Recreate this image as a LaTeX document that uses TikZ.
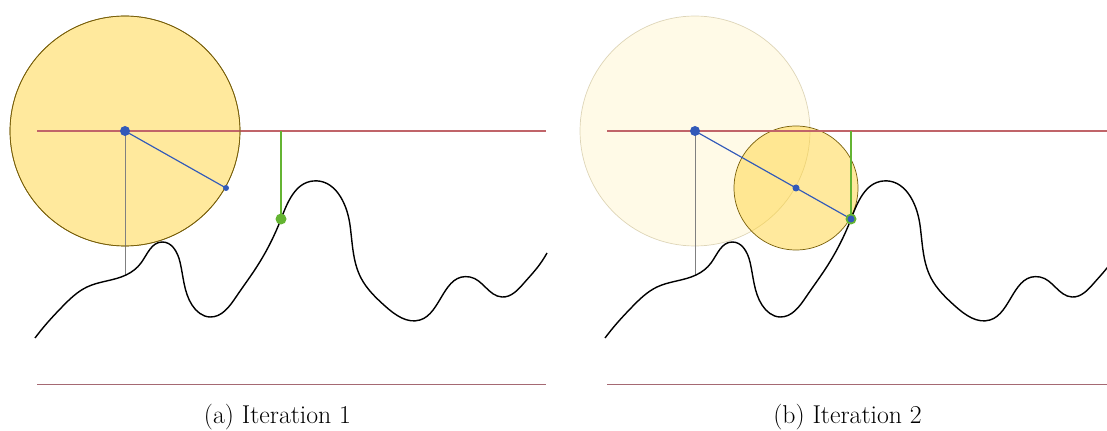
\documentclass[tikz,border=0pt]{standalone}
\usepackage{tikz}
\usetikzlibrary{hobby}
\definecolor{ballfill}{RGB}{255,212,60}
\definecolor{balledge}{RGB}{120,95,10}
\definecolor{levelred}{RGB}{192,100,105}
\definecolor{floorred}{RGB}{165,105,115}
\definecolor{stepblue}{RGB}{50,90,185}
\definecolor{hitgreen}{RGB}{100,180,50}

\tikzset{
  ball/.style={fill=ballfill, fill opacity=0.5, draw=balledge, line width=0.6pt},
  oldball/.style={fill=ballfill, fill opacity=0.12, draw=balledge, draw opacity=0.25, line width=0.6pt},
  level/.style={levelred, line width=1pt},
  floor/.style={floorred, line width=0.7pt},
  terrain/.style={black, line width=1.2pt, use Hobby shortcut},
  drop/.style={black!50, line width=0.7pt},
  probe/.style={hitgreen, line width=1.3pt},
  ray/.style={stepblue, line width=1pt},
  caption/.style={font=\fontsize{22}{26}\selectfont, inner sep=0pt}
}

\begin{document}
\begin{tikzpicture}[x=0.03cm, y=-0.03cm]
  \useasboundingbox (0,0) rectangle (1107,431);

  % shared parts of both panels
  \foreach \p/\off/\cap in {a/0/{(a) Iteration 1}, b/570/{(b) Iteration 2}}
  {
    \begin{scope}[shift={(\off,0)}]
      \coordinate (start-\p) at (125,131);
      \coordinate (ground-\p) at (125,275);
      \coordinate (lvlL-\p) at (37,131);
      \coordinate (lvlR-\p) at (546,131);
      \coordinate (flrL-\p) at (37,384);
      \coordinate (flrR-\p) at (546,384);
      \coordinate (top-\p) at (281,131);
      \coordinate (hit-\p) at (281,219);
      \coordinate (mid-\p) at (226,188);
      \node[caption] (cap-\p) at (277.5,417) {\cap};
    \end{scope}
  }

  % circles
  \fill[ball] (start-a) circle (115);
  \draw[oldball] (start-b) circle (115);
  \draw[ball] (mid-b) circle (62);

  \foreach \p/\off in {a/0, b/570}
  {
    \draw[level] (lvlL-\p) -- (lvlR-\p);
    \draw[floor] (flrL-\p) -- (flrR-\p);
    \draw[drop] (start-\p) -- (ground-\p);
    \draw[probe] (top-\p) -- (hit-\p);
    \begin{scope}[shift={(\off,0)}]
      \draw[terrain] (35,338) .. (48,322) .. (62,307) .. (87,287)
        .. (126,275) .. (141,263) .. (162,242) .. (180,262)
        .. (192,305) .. (210,317) .. (236,297) .. (256,268)
        .. (281,219) .. (313,181) .. (350,225) .. (361,278)
        .. (385,306) .. (420,320) .. (470,277) .. (502,297)
        .. (524,283) .. (537,268) .. (547,253);
    \end{scope}
  }

  % panel a
  \draw[balledge, line width=0.6pt] (start-a) circle (115);
  \draw[ray] (start-a) -- (mid-a);
  \fill[stepblue] (mid-a) circle (3);
  \fill[hitgreen] (hit-a) circle (5.5);
  \fill[stepblue] (start-a) circle (5);

  % panel b
  \draw[ray] (start-b) -- (hit-b);
  \fill[stepblue] (mid-b) circle (3.5);
  \fill[hitgreen] (hit-b) circle (5.5);
  \fill[stepblue] (hit-b) circle (3.5);
  \fill[stepblue] (start-b) circle (5);
\end{tikzpicture}
\end{document}
